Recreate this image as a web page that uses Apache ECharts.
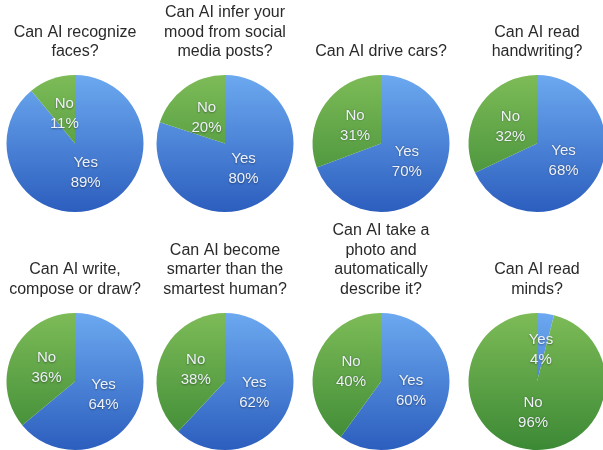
<!DOCTYPE html>
<html>
<head>
<meta charset="utf-8">
<script src="https://cdn.jsdelivr.net/npm/echarts@6/dist/echarts.min.js"></script>
<style>
html,body{margin:0;padding:0;background:#fff;}
#chart{width:603px;height:450px;}
</style>
</head>
<body>
<div id="chart"></div>
<script>
var titles = [
  "Can AI recognize\nfaces?",
  "Can AI infer your\nmood from social\nmedia posts?",
  "Can AI drive cars?",
  "Can AI read\nhandwriting?",
  "Can AI write,\ncompose or draw?",
  "Can AI become\nsmarter than the\nsmartest human?",
  "Can AI take a\nphoto and\nautomatically\ndescribe it?",
  "Can AI read\nminds?"
];
var categories = ["Yes", "No"];
var yesValues = [89, 80, 70, 68, 64, 62, 60, 4];
var noValues = [11, 20, 31, 32, 36, 38, 40, 96];

var colX = [75, 225, 381, 537];
var rowY = [143.5, 381.5];
var titleBottom = [388.25, 150.85];
var R = 68.5;

var blueStops = [{offset: 0, color: '#6ca9f0'}, {offset: 1, color: '#2c5ebe'}];
var greenStops = [{offset: 0, color: '#7dbb57'}, {offset: 1, color: '#3c8935'}];

var chart = echarts.init(document.getElementById('chart'), null, {renderer: 'canvas'});

var titleOpts = [];
var series = [];
for (var i = 0; i < titles.length; i++) {
  var cx = colX[i % 4];
  var cy = rowY[Math.floor(i / 4)];
  titleOpts.push({
    text: titles[i],
    left: cx,
    bottom: titleBottom[Math.floor(i / 4)],
    textAlign: 'center',
    padding: 0,
    textStyle: {
      fontFamily: 'Liberation Sans',
      fontSize: 16,
      fontWeight: 'normal',
      color: '#2a2a2a',
      lineHeight: 19.5
    }
  });
  var blue = new echarts.graphic.LinearGradient(cx, cy - R, cx, cy + R, blueStops, true);
  var green = new echarts.graphic.LinearGradient(cx, cy - R, cx, cy + R, greenStops, true);
  var data = [
    {name: categories[0], value: yesValues[i], itemStyle: {color: blue}},
    {name: categories[1], value: noValues[i], itemStyle: {color: green}}
  ];
  series.push({
    type: 'pie',
    center: [cx, cy],
    radius: [0, R],
    startAngle: 90,
    clockwise: true,
    silent: true,
    animation: false,
    label: {show: false},
    labelLine: {show: false},
    itemStyle: {borderWidth: 0},
    data: data
  });
  series.push({
    type: 'pie',
    center: [cx, cy],
    radius: [0, 57],
    startAngle: 90,
    clockwise: true,
    silent: true,
    animation: false,
    avoidLabelOverlap: false,
    itemStyle: {color: 'rgba(0,0,0,0)', borderWidth: 0},
    labelLine: {show: false},
    label: {
      show: true,
      position: 'inside',
      formatter: function (p) { return p.name + '\n' + p.value + '%'; },
      fontFamily: 'Liberation Sans',
      fontSize: 15,
      lineHeight: 20,
      color: '#eef2f8',
      textShadowColor: 'rgba(0,0,0,0.4)',
      textShadowBlur: 2,
      textShadowOffsetY: 0.5,
      textBorderWidth: 0
    },
    data: [
      {name: categories[0], value: yesValues[i]},
      {name: categories[1], value: noValues[i]}
    ]
  });
}

chart.setOption({
  animation: false,
  backgroundColor: '#ffffff',
  title: titleOpts,
  series: series
});
</script>
</body>
</html>
